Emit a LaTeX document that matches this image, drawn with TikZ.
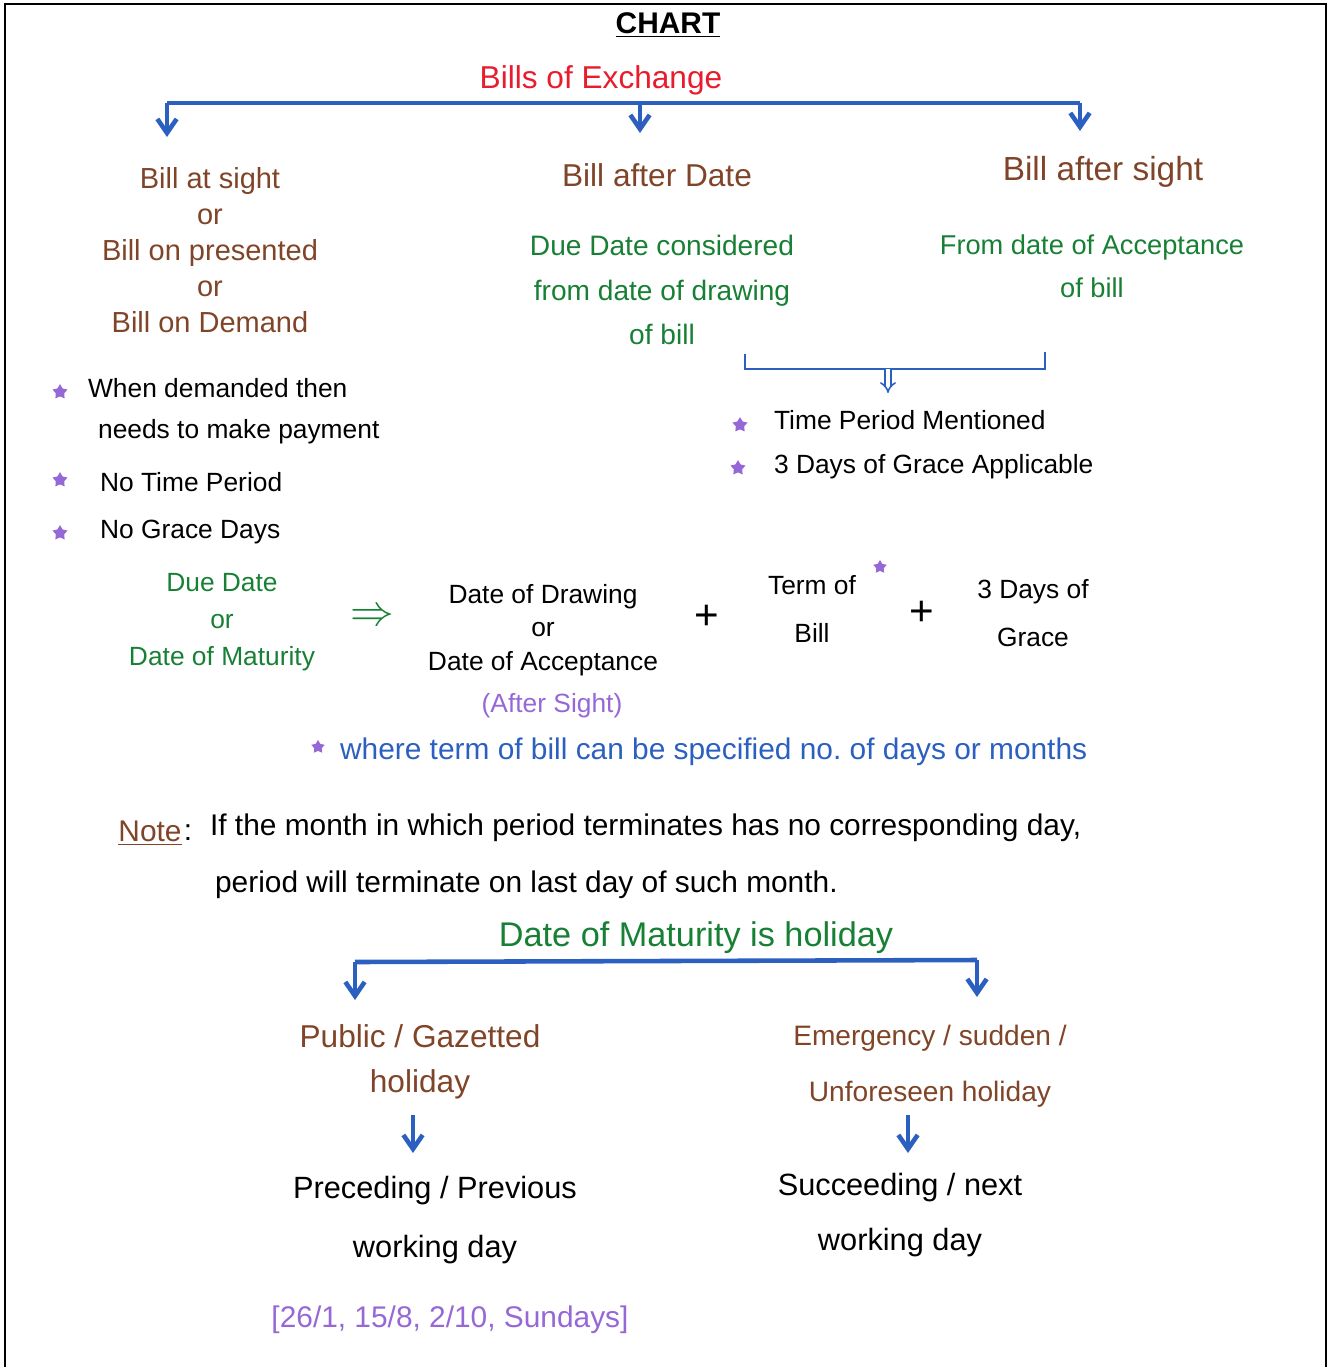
\documentclass[tikz,border=0pt]{standalone}
\usepackage{fontspec}
\setmainfont{Liberation Sans}
\usetikzlibrary{arrows.meta,shapes.geometric}
\definecolor{boered}{RGB}{232,28,44}
\definecolor{headbrown}{RGB}{128,68,40}
\definecolor{notegreen}{RGB}{24,128,52}
\definecolor{barblue}{RGB}{44,96,192}
\definecolor{starpurple}{RGB}{150,104,214}
\tikzset{hand/.style={font=\fontsize{15}{#1}\selectfont, inner sep=1pt, align=center},
hand/.default=20,
head/.style={hand=#1, text=headbrown}, head/.default=20,
greentxt/.style={hand=#1, text=notegreen}, greentxt/.default=20,
bar/.style={draw=barblue, line width=2.6pt},
bararrow/.style={bar, -{Straight Barb[length=8pt,width=11pt]}},
%small purple stars used as bullets
bullet/.style={star, star points=5, star point ratio=1.8, fill=starpurple, minimum size=9pt, inner sep=0pt}}

\begin{document}
\begin{tikzpicture}[x=0.02cm, y=-0.02cm]
    \useasboundingbox (0,0) rectangle (1330,1367);
    \draw [line width=1.2pt] (5,1367) -- (5,4) -- (1326,4) -- (1326,1367);
    \node[font=\bfseries\fontsize{17}{20}\selectfont] (title) at (668,25) {\underline{CHART}};

    % kinds of bills
    \node[hand, text=boered, font=\fontsize{18}{20}\selectfont] (boe) at (601,80) {Bills of Exchange};
    \coordinate (b1) at (167,103);
    \coordinate (b2) at (640,103);
    \coordinate (b3) at (1080,103);
    \coordinate (t1) at (167,137);
    \coordinate (t2) at (640,133);
    \coordinate (t3) at (1080,131);
    \draw [bar] (b1) -- (b3);
    \draw [bararrow] (b1) -- (t1);
    \draw [bararrow] (b2) -- (t2);
    \draw [bararrow] (b3) -- (t3);

    \node[head, font=\fontsize{16.5}{20.5}\selectfont] (sight) at (210,250) {Bill at sight\\or\\Bill on presented\\or\\Bill on Demand};
    \node[head, font=\fontsize{18}{20}\selectfont] (afterdate) at (657,175) {Bill after Date};
    \node[head, font=\fontsize{19}{20}\selectfont] (aftersight) at (1103,172) {Bill after sight};
    \node[greentxt, font=\fontsize{16}{25.5}\selectfont] (drawn) at (662,290) {Due Date considered\\from date of drawing\\of bill};
    \node[greentxt, font=\fontsize{15.5}{24.5}\selectfont] (accept) at (1092,266) {From date of Acceptance\\of bill};

    \coordinate (k1) at (745,354);
    \coordinate (km) at (888,369);
    \coordinate (k2) at (1045,352);
    \coordinate (kt) at (888,393);
    \draw [bar, line width=1.6pt] (k1) |- (km) -| (k2);
    \draw [barblue, double, double distance=2.2pt, line width=0.9pt, -{Implies[length=4pt]}] (km) -- (kt);

    \node[bullet] (s1) at (740,425) {};
    \node[hand, anchor=west] (period) at (772,420) {Time Period Mentioned};
    \node[bullet] (s2) at (738,468) {};
    \node[hand, anchor=west] (grace) at (772,467) {3 Days of Grace Applicable};

    \node[bullet] (s3) at (60,392) {};
    \node[hand, anchor=west] (dem1) at (86,388) {When demanded then};
    \node[hand, anchor=west] (dem2) at (96,432) {needs to make payment};
    \node[bullet] (s4) at (60,480) {};
    \node[hand, anchor=west] (notime) at (98,482) {No Time Period};
    \node[bullet] (s5) at (60,533) {};
    \node[hand, anchor=west] (nograce) at (98,532) {No Grace Days};

    % due date formula
    \node[greentxt=21] (due) at (222,622) {Due Date\\or\\Date of Maturity};
    \node[text=notegreen, font=\fontsize{24}{24}\selectfont] (imp) at (372,617) {$\Rightarrow$};
    \node[hand=19] (start) at (543,630) {Date of Drawing\\or\\Date of Acceptance};
    \node[hand, text=starpurple] (after) at (552,706) {(After Sight)};
    \node[hand, font=\fontsize{24}{24}\selectfont] (plus1) at (707,617) {+};
    \node[hand=27] (term) at (812,609) {Term of\\Bill};
    \node[bullet, minimum size=8pt] (s6) at (880,567) {};
    \node[hand, font=\fontsize{24}{24}\selectfont] (plus2) at (922,613) {+};
    \node[hand=27] (days) at (1033,613) {3 Days of\\Grace};

    \node[bullet, minimum size=8pt] (s7) at (318,747) {};
    \node[hand, text=barblue, anchor=west, font=\fontsize{17}{20}\selectfont] (where) at (338,752) {where term of bill can be specified no.\ of days or months};

    \node[hand, text=headbrown, font=\fontsize{17}{20}\selectfont] (note) at (150,833) {\underline{Note}};
    \node[hand, font=\fontsize{17}{20}\selectfont] (colon) at (188,833) {:};
    \node[hand, anchor=west, font=\fontsize{17}{20}\selectfont] (note1) at (208,828) {If the month in which period terminates has no corresponding day,};
    \node[hand, anchor=west, font=\fontsize{17}{20}\selectfont] (note2) at (213,885) {period will terminate on last day of such month.};

    % holiday
    \node[greentxt, font=\fontsize{19.5}{20}\selectfont] (holiday) at (696,938) {Date of Maturity is holiday};
    \coordinate (c1) at (355,962);
    \coordinate (c2) at (977,960);
    \coordinate (u1) at (355,1000);
    \coordinate (u2) at (977,997);
    \draw [bar] (c1) -- (c2);
    \draw [bararrow] (c1) -- (u1);
    \draw [bararrow] (c2) -- (u2);

    \node[head, font=\fontsize{18}{25.5}\selectfont] (public) at (420,1062) {Public / Gazetted\\holiday};
    \node[head, font=\fontsize{16}{32}\selectfont] (sudden) at (930,1066) {Emergency / sudden /\\Unforeseen holiday};
    \coordinate (p1) at (413,1115);
    \coordinate (p2) at (413,1153);
    \coordinate (q1) at (908,1115);
    \coordinate (q2) at (908,1153);
    \draw [bararrow] (p1) -- (p2);
    \draw [bararrow] (q1) -- (q2);

    \node[hand, font=\fontsize{17.5}{34}\selectfont] (prev) at (435,1220) {Preceding / Previous\\working day};
    \node[hand, text=starpurple, font=\fontsize{17}{20}\selectfont] (dates) at (450,1320) {[26/1, 15/8, 2/10, Sundays]};
    \node[hand, font=\fontsize{17.5}{31}\selectfont] (next) at (900,1215) {Succeeding / next\\working day};
\end{tikzpicture}
\end{document}
